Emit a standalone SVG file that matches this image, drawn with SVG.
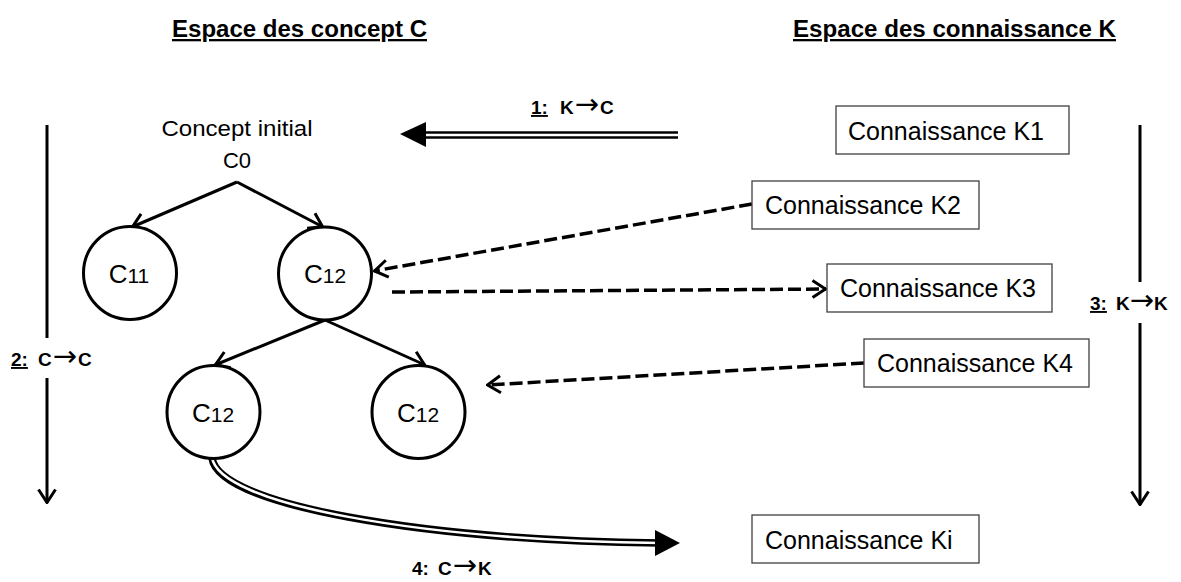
<svg xmlns="http://www.w3.org/2000/svg" width="1181" height="582" viewBox="0 0 1181 582">
<defs>
<style>
text{font-family:"Liberation Sans",Arial,sans-serif;fill:#000}
.h{font-size:23px;font-weight:bold;text-decoration:underline}
.lbl{font-size:19px;font-weight:bold}
.u{text-decoration:underline}
.ar{font-family:"DejaVu Sans",sans-serif;font-size:29px;font-weight:normal}
.box{fill:#fff;stroke:#404040;stroke-width:1.3}
.bt{font-size:25px}
.circ{fill:#fff;stroke:#000;stroke-width:3}
.ct{font-size:26px;text-anchor:middle}
.solid{fill:none;stroke:#000;stroke-width:3}
.dash{fill:none;stroke:#000;stroke-width:3.5;stroke-dasharray:13 5}
.dblo{fill:none;stroke:#000;stroke-width:7.5}
.dbli{fill:none;stroke:#fff;stroke-width:2.5}
</style>
<marker id="chev" viewBox="0 0 16 20" refX="15" refY="10" markerWidth="16" markerHeight="20" markerUnits="userSpaceOnUse" orient="auto">
<path d="M1.5,1.5 L14.5,10 L1.5,18.5" fill="none" stroke="#000" stroke-width="3" stroke-linejoin="miter"/>
</marker>
</defs>
<rect width="1181" height="582" fill="#fff"/>

<g id="titles">
<text class="h" x="172" y="37" textLength="255" lengthAdjust="spacingAndGlyphs">Espace des concept C</text>
<text class="h" x="793" y="37" textLength="323" lengthAdjust="spacingAndGlyphs">Espace des connaissance K</text>
</g>

<g id="connectors">
<!-- 1: K -> C double arrow -->
<line class="dblo" x1="420" y1="135" x2="678" y2="135"/>
<line class="dbli" x1="420" y1="135" x2="679" y2="135"/>
<polygon points="400,134 426,122 426,147" fill="#000"/>
<!-- tree arrows -->
<line class="solid" x1="237" y1="182" x2="132" y2="227" marker-end="url(#chev)"/>
<line class="solid" x1="237" y1="182" x2="323" y2="227" marker-end="url(#chev)"/>
<line class="solid" x1="325" y1="320" x2="215" y2="365" marker-end="url(#chev)"/>
<line class="solid" x1="325" y1="320" x2="425" y2="365" marker-end="url(#chev)"/>
<!-- dashed -->
<line class="dash" x1="752" y1="204" x2="374" y2="271" marker-end="url(#chev)"/>
<line class="dash" x1="392" y1="292" x2="826" y2="289" marker-end="url(#chev)"/>
<line class="dash" x1="864" y1="363" x2="487" y2="385" marker-end="url(#chev)"/>
<!-- 2: C -> C -->
<line class="solid" x1="47" y1="125" x2="47" y2="338"/>
<line class="solid" x1="47" y1="378" x2="47" y2="503" marker-end="url(#chev)"/>
<!-- 3: K -> K -->
<line class="solid" x1="1140" y1="125" x2="1140" y2="282"/>
<line class="solid" x1="1140" y1="323" x2="1140" y2="505" marker-end="url(#chev)"/>
<!-- 4: C -> K curved double arrow -->
<path class="dblo" d="M212,458 C218,505 420,540 660,543"/>
<path class="dbli" d="M212,457 C218,505 420,540 660,543"/>
<polygon points="680,543 655,530 655,556" fill="#000"/>
</g>

<g id="labels">
<text class="lbl u" x="531" y="114">1:</text>
<text class="lbl" x="560" y="114">K<tspan class="ar" dx="1">→</tspan><tspan dx="1">C</tspan></text>
<text class="lbl u" x="11" y="366">2:</text>
<text class="lbl" x="38" y="366">C<tspan class="ar" dx="1">→</tspan><tspan dx="1">C</tspan></text>
<text class="lbl u" x="1090" y="310">3:</text>
<text class="lbl" x="1116" y="310">K<tspan class="ar" dx="0">→</tspan><tspan dx="0">K</tspan></text>
<text class="lbl" x="412" y="575">4:</text>
<text class="lbl" x="438" y="575">C<tspan class="ar" dx="1">→</tspan><tspan dx="1">K</tspan></text>
</g>

<g id="C0">
<text x="237" y="136" font-size="22" text-anchor="middle" textLength="151" lengthAdjust="spacingAndGlyphs">Concept initial</text>
<text x="237" y="168" font-size="22" text-anchor="middle">C0</text>
</g>
<g id="C11">
<circle class="circ" cx="130" cy="273" r="46.5"/>
<text class="ct" x="129" y="283">C<tspan font-size="21">11</tspan></text>
</g>
<g id="C12a">
<circle class="circ" cx="325" cy="273.5" r="46.5"/>
<text class="ct" x="325" y="283">C<tspan font-size="21">12</tspan></text>
</g>
<g id="C12b">
<circle class="circ" cx="213.5" cy="412" r="46.5"/>
<text class="ct" x="213" y="422">C<tspan font-size="21">12</tspan></text>
</g>
<g id="C12c">
<circle class="circ" cx="418.5" cy="412" r="46.5"/>
<text class="ct" x="418" y="422">C<tspan font-size="21">12</tspan></text>
</g>

<g id="K1">
<rect class="box" x="836" y="106" width="233" height="48"/>
<text class="bt" x="848" y="140">Connaissance K1</text>
</g>
<g id="K2">
<rect class="box" x="752" y="181" width="227" height="48"/>
<text class="bt" x="765" y="214">Connaissance K2</text>
</g>
<g id="K3">
<rect class="box" x="827" y="264" width="225" height="48"/>
<text class="bt" x="840" y="297">Connaissance K3</text>
</g>
<g id="K4">
<rect class="box" x="864" y="339" width="225" height="48"/>
<text class="bt" x="877" y="372">Connaissance K4</text>
</g>
<g id="Ki">
<rect class="box" x="752" y="515" width="227" height="48"/>
<text class="bt" x="765" y="549">Connaissance Ki</text>
</g>
</svg>
